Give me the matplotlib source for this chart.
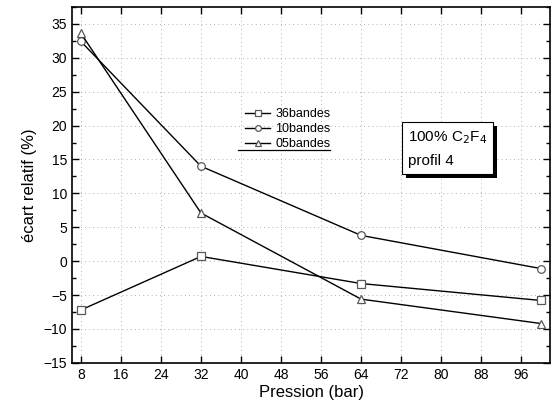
import matplotlib
matplotlib.use("Agg")
import matplotlib.pyplot as plt
from matplotlib.lines import Line2D
from matplotlib.ticker import MultipleLocator, NullLocator
import matplotlib.patheffects as pe

plt.rcParams['font.family'] = ['Liberation Sans', 'DejaVu Sans']

pression = [8, 32, 64, 100]
bandes36 = [-7.2, 0.7, -3.3, -5.8]
bandes10 = [32.4, 14.0, 3.8, -1.1]
bandes05 = [33.6, 7.1, -5.6, -9.2]
labels = ['36bandes', '10bandes', '05bandes']
xticks = [8, 16, 24, 32, 40, 48, 56, 64, 72, 80, 88, 96]

fig = plt.figure(figsize=(5.53, 4.05), dpi=100)
ax = fig.add_axes([0.130, 0.104, 0.865, 0.879])

mk = dict(color='black', lw=1.0, markerfacecolor='white', markeredgecolor='0.35',
          markersize=5.5, markeredgewidth=0.9)
h1, = ax.plot(pression, bandes36, marker='s', **mk)
h2, = ax.plot(pression, bandes10, marker='o', **mk)
h3, = ax.plot(pression, bandes05, marker='^', **mk)

ax.set_xlim(6.2, 101.8)
ax.set_ylim(-15, 37.5)
ax.set_xticks(xticks)
ax.xaxis.set_minor_locator(NullLocator())
ax.yaxis.set_major_locator(MultipleLocator(5))
ax.yaxis.set_minor_locator(MultipleLocator(2.5))

ax.grid(True, which='major', color='0.6', linestyle=(0, (1, 4)), linewidth=0.6)

ax.tick_params(which='both', direction='in', top=True, right=True, labelsize=10, width=1.0)
ax.tick_params(which='major', length=5)
ax.tick_params(which='minor', length=3)
for s in ax.spines.values():
    s.set_linewidth(1.2)

ax.set_xlabel('Pression (bar)', fontsize=12, labelpad=2)
ax.set_ylabel('écart relatif (%)', fontsize=12, labelpad=5)

leg = ax.legend([h1, h2, h3], labels, loc='upper left', bbox_to_anchor=(0.352, 0.73),
                frameon=False, fontsize=9, handlelength=2.0, handletextpad=0.4,
                labelspacing=0.25, markerscale=0.75, borderaxespad=0)
ax.add_line(Line2D([0.347, 0.54], [0.597, 0.597], transform=ax.transAxes,
                   color='black', lw=0.9))

box = ax.text(0.702, 0.655, '100% C$_2$F$_4$\nprofil 4', transform=ax.transAxes,
              fontsize=11, va='top', ha='left', linespacing=1.7,
              bbox=dict(boxstyle='square,pad=0.4', facecolor='white', edgecolor='black',
                        linewidth=0.8))
box.get_bbox_patch().set_path_effects([
    pe.SimplePatchShadow(offset=(3, -3), shadow_rgbFace='black', alpha=1.0),
    pe.Normal()])

fig.savefig('out.png', dpi=100)
